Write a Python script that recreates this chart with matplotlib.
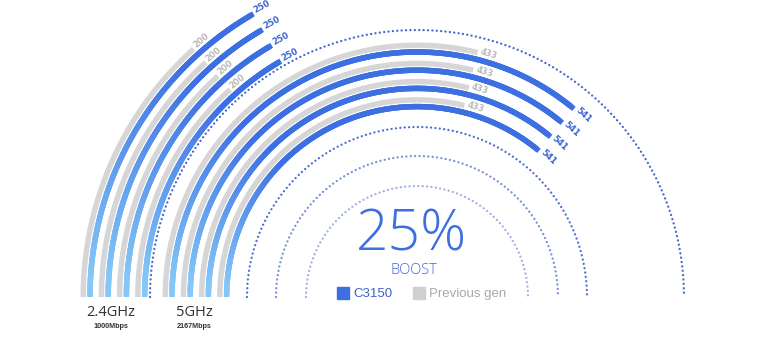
import numpy as np
import matplotlib
matplotlib.use("Agg")
import matplotlib.pyplot as plt
from matplotlib.collections import LineCollection
from matplotlib.colors import LinearSegmentedColormap
from matplotlib.lines import Line2D

# data
bands = ["2.4GHz", "5GHz"]
speeds = ["1000Mbps", "2167Mbps"]
c3150 = [250, 541]
previous = [200, 433]
rings_per_band = 4
boost = "25%"

# layout (pixels)
W, H = 772, 343
cx, cy = 417, 297
rmax = 345
band_outer = [327, 245]      # radius of the outer blue ring in each band
ring_step = 18.2
gray_gap = 6.8
dotted_r = [111, 141, 170, 267]
dotted_c = ["#9fb0e2", "#7890d8", "#4f6fd0", "#4566cc"]
full_scale = 750             # value that maps to 180 degrees

BLUE = "#3c6fe2"
LIGHT = "#84c8f8"
GRAY = "#d6d6d6"
grad = LinearSegmentedColormap.from_list("g", [LIGHT, BLUE])


def to_theta(v):
    return np.deg2rad(v / full_scale * 180.0)


fig = plt.figure(figsize=(W / 100, H / 100), dpi=100, facecolor="white")
ax = fig.add_axes([(cx - rmax) / W, (H - cy - rmax) / H, 2 * rmax / W, 2 * rmax / H],
                  projection="polar")
ax.set_theta_zero_location("W")
ax.set_theta_direction(-1)
ax.set_ylim(0, rmax)
ax.set_axis_off()

# dotted guide rings
for r, c in zip(dotted_r, dotted_c):
    t = np.linspace(0, np.pi, 600)
    ax.plot(t, np.full_like(t, r), color=c, lw=1.7, ls=(0, (0.01, 1.85)),
            dash_capstyle="round")

for b in range(len(bands)):
    for i in range(rings_per_band):
        rb = band_outer[b] - i * ring_step
        rg = rb + gray_gap
        # previous gen arc
        tg = np.linspace(0, to_theta(previous[b]), 200)
        ax.plot(tg, np.full_like(tg, rg), color=GRAY, lw=3.9, solid_capstyle="butt")
        # C3150 arc with gradient (overlapping pieces to avoid seams)
        tb = np.linspace(0, to_theta(c3150[b]), 240)
        pts = np.column_stack([tb, np.full_like(tb, rb)])
        segs = [pts[k:k + 4] for k in range(0, len(pts) - 3)]
        deg = np.rad2deg(tb[:len(segs)])
        lc = LineCollection(segs, colors=grad(np.clip((deg - 3) / 42, 0, 1)),
                            linewidths=3.9, capstyle="butt", joinstyle="round")
        ax.add_collection(lc)
        # value labels
        for val, r, col in [(c3150[b], rb + 1.5, "#3a62d0"), (previous[b], rg + 1.5, "#b9b9b9")]:
            th = to_theta(val) + 11.0 / r
            ax.text(th, r, str(val), rotation=90 - np.rad2deg(th), rotation_mode="anchor",
                    ha="center", va="center", fontsize=6, color=col,
                    fontweight="bold", family="DejaVu Sans")

# band labels
band_x = [111, 194]
for x, name, sp in zip(band_x, bands, speeds):
    fig.text(x / W, 1 - 312 / H, name, ha="center", va="center", fontsize=10.5,
             color="#333333", family="Open Sans")
    fig.text(x / W, 1 - 327 / H, sp, ha="center", va="center", fontsize=5.2,
             color="#333333", fontweight="bold", family="Liberation Sans")

fig.text(411 / W, 1 - 236 / H, boost, ha="center", va="center", fontsize=41,
         color=BLUE, family="Open Sans", fontweight="light")
fig.text(414 / W, 1 - 271 / H, "BOOST", ha="center", va="center", fontsize=10.5,
         color="#3f6bd8", family="Open Sans", fontweight="light")

handles = [Line2D([], [], marker="s", ls="", color=BLUE, markersize=8),
           Line2D([], [], marker="s", ls="", color="#cfcfcf", markersize=8)]
leg = fig.legend(handles, ["C3150", "Previous gen"], loc="center",
                 bbox_to_anchor=(422 / W, 1 - 294 / H), ncol=2, frameon=False,
                 handlelength=0.8, handletextpad=0.4, columnspacing=1.6,
                 prop={"family": "Liberation Sans", "size": 9.5})
leg.get_texts()[0].set_color("#3a62d0")
leg.get_texts()[1].set_color("#a8a8a8")

fig.savefig("out.png", dpi=100, facecolor="white")
